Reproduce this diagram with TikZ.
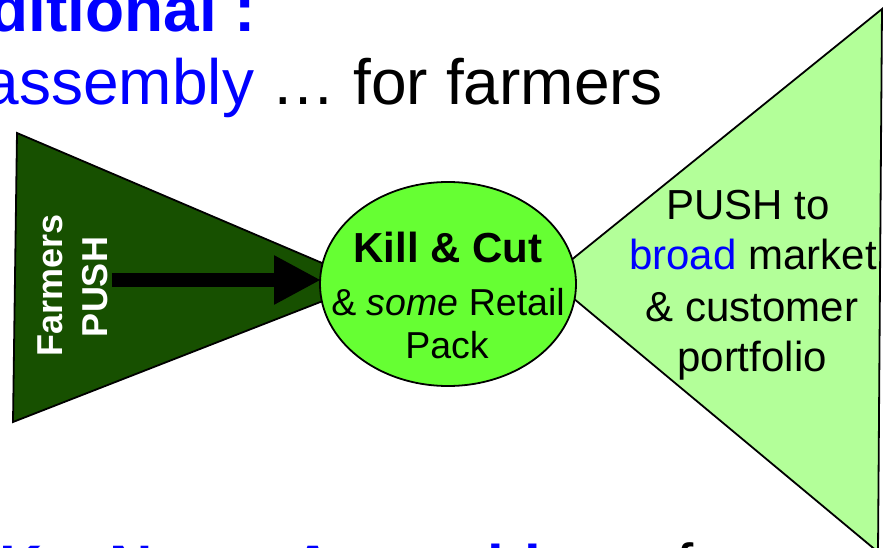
\documentclass[tikz,border=0pt]{standalone}
\usepackage{fontspec}
\setmainfont{Liberation Sans}
\usetikzlibrary{arrows.meta,shapes.geometric}
\definecolor{darkg}{RGB}{23,80,0}
\definecolor{brightg}{RGB}{102,255,51}
\definecolor{lightg}{RGB}{179,255,153}
\definecolor{pblue}{RGB}{0,0,255}
\newcommand{\myfs}[1]{\fontsize{#1}{#1}\selectfont}
\begin{document}
\begin{tikzpicture}[x=1pt,y=-1pt,
  txt/.style={inner sep=0pt, outer sep=0pt},
  outl/.style={draw=black, line width=1.8pt, line join=miter}]
\useasboundingbox (0,0) rectangle (884,548);
\clip (0,0) rectangle (884,548);

% heading texts
\node[txt, anchor=base east, text=pblue, font=\myfs{64}\bfseries] (h1) at (256,32) {Traditional :};
\node[txt, anchor=base east, font=\myfs{64}] (h2) at (663,105) {\textcolor{pblue}{assembly} … for farmers};
\node[txt, anchor=base west, text=pblue, font=\myfs{60}\bfseries] (b1) at (-44,587) {UK – New};
\node[txt, anchor=base west, text=pblue, font=\myfs{60}\bfseries] (b2) at (291,587) {Assembly};
\node[txt, anchor=base west, font=\myfs{62}] (b3) at (597,587) {… for};

% left triangle
\coordinate (l1) at (17,133);
\coordinate (l2) at (369,283);
\coordinate (l3) at (13,422);
\filldraw[outl, fill=darkg] (l1) -- (l2) -- (l3) -- cycle;

% right triangle
\coordinate (r1) at (549,278);
\coordinate (r2) at (882,9);
\coordinate (r3) at (878,552);
\filldraw[outl, fill=lightg] (r1) -- (r2) -- (r3) -- cycle;

% arrow
\coordinate (a1) at (112,280);
\coordinate (a2) at (321,280);
\draw[line width=14pt, -{Triangle[length=47pt,width=46pt]}] (a1) -- (a2);

% circle
\node[ellipse, outl, fill=brightg, minimum width=256pt, minimum height=204pt, inner sep=0pt] (kc) at (448,284) {};

% left labels
\node[txt, rotate=90, anchor=base, text=white, font=\myfs{36}\bfseries] (f1) at (62,285) {Farmers};
\node[txt, rotate=90, anchor=base, text=white, font=\myfs{36}\bfseries] (f2) at (107,287) {PUSH};

% circle labels
\node[txt, anchor=base, font=\myfs{42}\bfseries] (k1) at (448,263) {Kill \& Cut};
\node[txt, anchor=base, font=\myfs{37.5}] (k2) at (448,316) {\& \textit{some} Retail};
\node[txt, anchor=base, font=\myfs{37.5}] (k3) at (447,358) {Pack};

% right labels
\node[txt, anchor=base, font=\myfs{42}] (p1) at (748,220) {PUSH to};
\node[txt, anchor=base, font=\myfs{42}] (p2) at (753,270) {\textcolor{pblue}{broad} market};
\node[txt, anchor=base, font=\myfs{42}] (p3) at (752,321) {\& customer};
\node[txt, anchor=base, font=\myfs{42}] (p4) at (752,371) {portfolio};
\end{tikzpicture}
\end{document}
